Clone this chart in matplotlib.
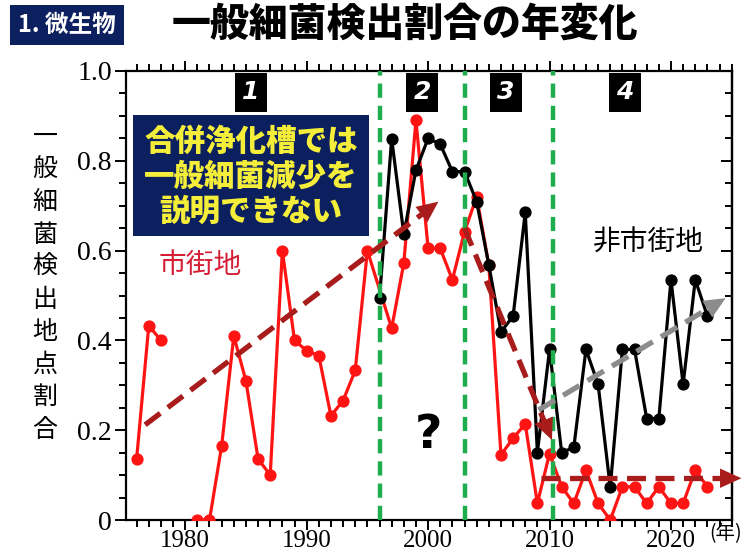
import numpy as np
import matplotlib
matplotlib.use("Agg")
import matplotlib.pyplot as plt
from matplotlib.ticker import MultipleLocator, FixedLocator, FuncFormatter

# ---------------- data ----------------
red_years = [1976, 1977, 1978, 1979, 1980, 1981, 1982, 1983, 1984, 1985, 1986, 1987,
             1988, 1989, 1990, 1991, 1992, 1993, 1994, 1995, 1997, 1998, 1999, 2000,
             2001, 2002, 2003, 2004, 2005, 2006, 2007, 2008, 2009, 2010, 2011, 2012,
             2013, 2014, 2015, 2016, 2017, 2018, 2019, 2020, 2021, 2022, 2023]
red_vals = [0.136, 0.433, 0.400, np.nan, np.nan, 0.0, 0.0, 0.165, 0.410, 0.310, 0.136, 0.100,
            0.600, 0.400, 0.377, 0.366, 0.232, 0.266, 0.333, 0.600, 0.427, 0.572, 0.890, 0.605,
            0.605, 0.535, 0.642, 0.720, 0.568, 0.145, 0.182, 0.214, 0.037, 0.148, 0.074, 0.037,
            0.111, 0.037, 0.0, 0.074, 0.074, 0.037, 0.074, 0.037, 0.037, 0.111, 0.074]

black_years = list(range(1996, 2024))
black_vals = [0.494, 0.849, 0.637, 0.779, 0.850, 0.837, 0.776, 0.776, 0.709, 0.568,
              0.419, 0.454, 0.685, 0.150, 0.380, 0.150, 0.162, 0.380, 0.302, 0.073,
              0.380, 0.380, 0.226, 0.226, 0.535, 0.302, 0.535, 0.454]

period_bounds = [1996, 2003, 2010.3]
period_labels = ["1", "2", "3", "4"]
period_label_x = [1985.4, 1999.5, 2006.4, 2016.2]

# trend arrows: (x0, y0, x1, y1)
trend_red1 = (1976.7, 0.212, 2000.85, 0.709)
trend_red2 = (2003.0, 0.650, 2010.2, 0.178)
trend_red3 = (2009.3, 0.093, 2025.8, 0.093)
trend_gray = (2009.1, 0.245, 2024.5, 0.494)

x_major = [1980, 1990, 2000, 2010, 2020]
y_major = [0, 0.2, 0.4, 0.6, 0.8, 1.0]

title = "一般細菌検出割合の年変化"
section = "1. 微生物"
ylabel = "一般細菌検出地点割合"
note = "合併浄化槽では\n一般細菌減少を\n説明できない"
urban = "市街地"
rural = "非市街地"

# ---------------- figure ----------------
W, H = 753, 552
fig = plt.figure(figsize=(W / 100, H / 100), dpi=100)
JP = ['Noto Sans CJK JP', 'DejaVu Sans']
SERIF = ['Liberation Serif', 'DejaVu Serif']


def fx(x):
    return x / W


def fy(y):
    return 1 - y / H


ax = fig.add_axes([fx(125.7), fy(520), (731.7 - 125.7) / W, (520 - 71) / H])
ax.set_xlim(1975.1, 2025.0)
ax.set_ylim(0, 1.0)

RED = '#ff1414'
DARKRED = '#a81c1c'
GREEN = '#20ad4e'
GRAY = '#8c8c8c'

ax.plot(red_years, red_vals, color=RED, lw=2.3, marker='o', ms=7.8, zorder=3)
ax.plot(black_years, black_vals, color='black', lw=2.3, marker='o', ms=7.8, zorder=4)

for b in period_bounds:
    ax.axvline(b, color=GREEN, lw=3.2, ls=(0, (3.2, 1.8)), zorder=6)


def trend(seg, color):
    x0, y0, x1, y1 = seg
    f = 0.955 if abs(x1 - x0) > 10 else 0.93
    xb = x0 + (x1 - x0) * f
    yb = y0 + (y1 - y0) * f
    ax.plot([x0, xb], [y0, yb], color=color, lw=3.8, ls=(0, (3.6, 1.8)),
            solid_capstyle='butt', dash_capstyle='butt', zorder=7, clip_on=False)
    ax.annotate('', xy=(x1, y1), xytext=(xb, yb),
                arrowprops=dict(arrowstyle='-|>,head_length=1.1,head_width=0.5',
                                color=color, lw=0, shrinkA=0, shrinkB=0,
                                mutation_scale=14),
                zorder=7, annotation_clip=False)


trend(trend_red1, DARKRED)
trend(trend_red2, DARKRED)
trend(trend_red3, DARKRED)
trend(trend_gray, GRAY)

# ticks
ax.xaxis.set_major_locator(FixedLocator(x_major))
ax.xaxis.set_minor_locator(MultipleLocator(1))
ax.yaxis.set_major_locator(FixedLocator(y_major))
ax.yaxis.set_minor_locator(MultipleLocator(0.05))
ax.yaxis.set_major_formatter(FuncFormatter(lambda v, p: "0" if v == 0 else f"{v:.1f}"))
ax.tick_params(axis='x', which='both', direction='out', top=True, bottom=True,
               width=1.4, labelsize=18, pad=0)
ax.tick_params(axis='x', which='major', length=7)
ax.tick_params(axis='x', which='minor', length=5)
ax.tick_params(axis='y', which='both', direction='out', left=True, right=False,
               width=1.4, labelsize=20, pad=2)
ax.tick_params(axis='y', which='major', length=8)
ax.tick_params(axis='y', which='minor', length=5)
for lab in ax.get_xticklabels() + ax.get_yticklabels():
    lab.set_fontfamily(SERIF)

sec = ax.secondary_yaxis('right')
sec.yaxis.set_major_locator(FixedLocator(y_major))
sec.yaxis.set_minor_locator(MultipleLocator(0.05))
sec.tick_params(which='both', direction='in', labelright=False, width=1.4)
sec.tick_params(which='major', length=8)
sec.tick_params(which='minor', length=5)
sec.spines['right'].set_linewidth(1.6)

for s in ax.spines.values():
    s.set_linewidth(1.6)

# period number boxes
for lx, t in zip(period_label_x, period_labels):
    ax.text(lx, 0.953, t, ha='center', va='center', color='white', fontsize=18,
            fontweight='bold', fontstyle='italic', family=['DejaVu Sans'],
            bbox=dict(boxstyle='square,pad=0.3', fc='black', ec='none'), zorder=8)

# note box
fig.patches.append(plt.Rectangle((fx(133), fy(236)), (369 - 133) / W, (236 - 115) / H,
                                 transform=fig.transFigure, fc='#0c1f5e', ec='none',
                                 zorder=5))
fig.text(fx(251), fy(176), note, ha='center', va='center', color='#f4ee3a',
         fontsize=22, fontweight='black', family=JP, linespacing=1.15, zorder=9)

fig.text(fx(200), fy(265), urban, ha='center', va='center', color='#d41f35',
         fontsize=20, family=JP, zorder=9)
fig.text(fx(648), fy(243), rural, ha='center', va='center', color='black',
         fontsize=20, family=JP, zorder=9)
fig.text(fx(428), fy(435), "?", ha='center', va='center', color='black',
         fontsize=34, fontweight='bold', family=['DejaVu Sans'], zorder=9)

# title and section tag
fig.text(fx(405), fy(24), title, ha='center', va='center', color='black',
         fontsize=28, fontweight='black', family=JP)
fig.text(fx(67), fy(25), section, ha='center', va='center', color='white',
         fontsize=17, fontweight='bold', family=JP,
         bbox=dict(boxstyle='square,pad=0.35', fc='#0c1f5e', ec='none'))

# y label (vertical, stacked)
ys = np.linspace(137, 430, len(ylabel))
for ch, yy in zip(ylabel, ys):
    fig.text(fx(45), fy(yy), ch, ha='center', va='center', color='black',
             fontsize=18, family=JP)

# year unit
fig.text(fx(726), fy(534), "(年)", ha='center', va='center', color='black',
         fontsize=14, family=JP)

fig.savefig("out.png", dpi=100)
